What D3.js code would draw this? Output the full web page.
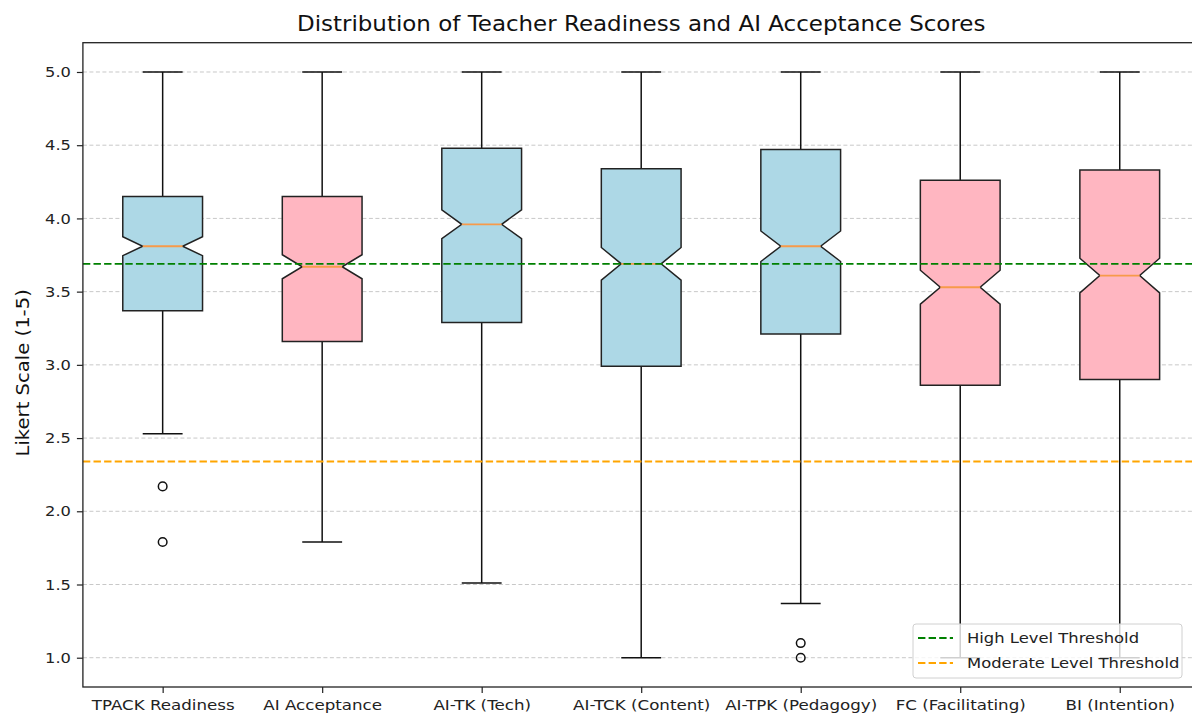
<!DOCTYPE html>
<html>
<head>
<meta charset="utf-8">
<script src="https://cdn.jsdelivr.net/npm/d3@7"></script>
<style>
  html, body { margin: 0; padding: 0; background: #fff; }
  svg { display: block; font-family: "DejaVu Sans", sans-serif; }
</style>
</head>
<body>
<svg id="chart" width="1192" height="715"></svg>
<script>
// Score summaries per construct (Likert 1-5)
const categories = ["TPACK Readiness", "AI Acceptance", "AI-TK (Tech)", "AI-TCK (Content)",
                    "AI-TPK (Pedagogy)", "FC (Facilitating)", "BI (Intention)"];
const q1Values      = [3.37, 3.16, 3.29, 2.99, 3.21, 2.86, 2.90];
const medianValues  = [3.81, 3.67, 3.96, 3.69, 3.81, 3.53, 3.61];
const q3Values      = [4.15, 4.15, 4.48, 4.34, 4.47, 4.26, 4.33];
const whiskerLow    = [2.53, 1.79, 1.51, 1.00, 1.37, 1.00, 1.00];
const whiskerHigh   = [5.00, 5.00, 5.00, 5.00, 5.00, 5.00, 5.00];
const outlierValues = [[2.17, 1.79], [], [], [], [1.10, 1.00], [], []];
const boxGroup      = ["readiness", "acceptance", "readiness", "readiness", "readiness", "acceptance", "acceptance"];
const sampleSize = 360;
const yTicks = [1.0, 1.5, 2.0, 2.5, 3.0, 3.5, 4.0, 4.5, 5.0];
const thresholdNames  = ["High Level Threshold", "Moderate Level Threshold"];
const thresholdValues = [3.69, 2.34];

const groupFill = { readiness: "#add8e6", acceptance: "#ffb6c1" };
const thresholdColors = ["#008000", "#ffa500"];

const svg = d3.select("#chart");
const plot = { left: 82.9, right: 1199.5, top: 42.7, bottom: 687 };

// widen glyph runs slightly
function widen(sel, k) {
  sel.each(function () {
    const w = this.getComputedTextLength();
    d3.select(this).attr("textLength", w * k).attr("lengthAdjust", "spacingAndGlyphs");
  });
}

const x = d3.scaleLinear().domain([0.5, categories.length + 0.5]).range([plot.left, plot.right]);
const y = d3.scaleLinear().domain([0.8, 5.2]).range([plot.bottom, plot.top]);
const unit = x(2) - x(1);
const boxW = unit * 0.5;

// horizontal grid
svg.append("g").selectAll("line").data(yTicks).join("line")
  .attr("x1", plot.left).attr("x2", plot.right)
  .attr("y1", d => y(d)).attr("y2", d => y(d))
  .attr("stroke", "#c8c8c8").attr("stroke-width", 1)
  .attr("stroke-dasharray", "4,2.5");

const boxes = categories.map((c, i) => ({
  i, pos: i + 1,
  q1: q1Values[i], med: medianValues[i], q3: q3Values[i],
  lo: whiskerLow[i], hi: whiskerHigh[i], out: outlierValues[i],
  fill: groupFill[boxGroup[i]]
}));

const g = svg.append("g");

// whiskers and caps
boxes.forEach(b => {
  const cx = x(b.pos);
  g.append("line").attr("x1", cx).attr("x2", cx).attr("y1", y(b.q1)).attr("y2", y(b.lo))
    .attr("stroke", "#111").attr("stroke-width", 1.5);
  g.append("line").attr("x1", cx).attr("x2", cx).attr("y1", y(b.q3)).attr("y2", y(b.hi))
    .attr("stroke", "#111").attr("stroke-width", 1.5);
  [b.lo, b.hi].forEach(v => {
    g.append("line").attr("x1", cx - boxW / 4).attr("x2", cx + boxW / 4)
      .attr("y1", y(v)).attr("y2", y(v))
      .attr("stroke", "#111").attr("stroke-width", 1.5);
  });
});

// notched boxes
boxes.forEach(b => {
  const cx = x(b.pos);
  const half = 1.57 * (b.q3 - b.q1) / Math.sqrt(sampleSize);
  const nLo = b.med - half, nHi = b.med + half;
  const L = cx - boxW / 2, R = cx + boxW / 2;
  const Li = cx - boxW / 4, Ri = cx + boxW / 4;
  const pts = [
    [L, y(b.q1)], [R, y(b.q1)], [R, y(nLo)], [Ri, y(b.med)], [R, y(nHi)],
    [R, y(b.q3)], [L, y(b.q3)], [L, y(nHi)], [Li, y(b.med)], [L, y(nLo)]
  ];
  g.append("path").attr("d", d3.line()(pts) + "Z")
    .attr("fill", b.fill).attr("stroke", "#222").attr("stroke-width", 1.5)
    .attr("stroke-linejoin", "miter");
  g.append("line").attr("x1", Li).attr("x2", Ri).attr("y1", y(b.med)).attr("y2", y(b.med))
    .attr("stroke", "#f79a4a").attr("stroke-width", 1.8);
  // outliers
  g.selectAll(null).data(b.out).join("circle")
    .attr("cx", cx).attr("cy", d => y(d)).attr("r", 4.3)
    .attr("fill", "none").attr("stroke", "#111").attr("stroke-width", 1.5);
});

// threshold lines
thresholdValues.forEach((v, i) => {
  svg.append("line").attr("x1", plot.left).attr("x2", plot.right)
    .attr("y1", y(v)).attr("y2", y(v))
    .attr("stroke", thresholdColors[i]).attr("stroke-width", 1.8)
    .attr("stroke-dasharray", "7.4,3.2");
});

// axes
const xAxis = d3.axisBottom(x).tickValues(categories.map((c, i) => i + 1))
  .tickFormat((d, i) => categories[i]).tickSize(6).tickPadding(5);
const yAxis = d3.axisLeft(y).tickValues(yTicks).tickFormat(d3.format(".1f"))
  .tickSize(6).tickPadding(6);

const gx = svg.append("g").attr("transform", `translate(0,${plot.bottom})`).call(xAxis);
const gy = svg.append("g").attr("transform", `translate(${plot.left},0)`).call(yAxis);
[gx, gy].forEach(a => {
  a.select(".domain").remove();
  a.selectAll(".tick line").attr("stroke", "#222").attr("stroke-width", 1.2);
  a.selectAll(".tick text").attr("fill", "#222").style("font-size", "14.5px")
    .style("font-family", "DejaVu Sans, sans-serif");
});
gx.selectAll(".tick text").attr("dy", "0.85em");
widen(gx.selectAll(".tick text"), 1.15);
widen(gy.selectAll(".tick text"), 1.12);

// spines
svg.append("rect").attr("x", plot.left).attr("y", plot.top)
  .attr("width", plot.right - plot.left).attr("height", plot.bottom - plot.top)
  .attr("fill", "none").attr("stroke", "#222").attr("stroke-width", 1.3);

// title and axis label
const title = svg.append("text").attr("x", (plot.left + plot.right) / 2).attr("y", 31)
  .attr("text-anchor", "middle").style("font-size", "20.5px").attr("fill", "#111")
  .text("Distribution of Teacher Readiness and AI Acceptance Scores");
widen(title, 1.12);
const ylab = svg.append("text")
  .attr("transform", `translate(29,${(plot.top + plot.bottom) / 2 + 8}) rotate(-90)`)
  .attr("text-anchor", "middle").style("font-size", "17.5px").attr("fill", "#111")
  .text("Likert Scale (1-5)");
widen(ylab, 1.12);

// legend
const leg = svg.append("g").attr("transform", "translate(913,624)");
leg.append("rect").attr("width", 269).attr("height", 54).attr("rx", 3)
  .attr("fill", "#fff").attr("fill-opacity", 0.8)
  .attr("stroke", "#d0d0d0").attr("stroke-width", 1);
thresholdNames.forEach((name, i) => {
  const ly = 14 + i * 25;
  leg.append("line").attr("x1", 5).attr("x2", 40).attr("y1", ly).attr("y2", ly)
    .attr("stroke", thresholdColors[i]).attr("stroke-width", 1.8)
    .attr("stroke-dasharray", "7.4,3.2");
  const t = leg.append("text").attr("x", 54).attr("y", ly + 5)
    .style("font-size", "14.5px").attr("fill", "#222").text(name);
  widen(t, 1.13);
});
</script>
</body>
</html>
